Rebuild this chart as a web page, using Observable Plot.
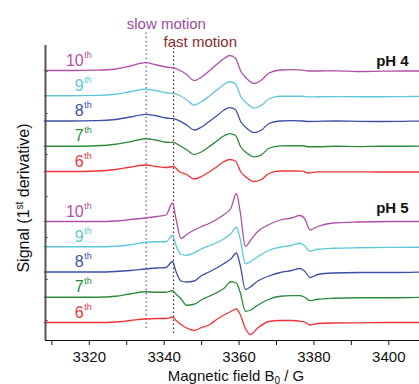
<!DOCTYPE html>
<html><head><meta charset="utf-8">
<script src="https://cdn.jsdelivr.net/npm/d3@7"></script>
<script src="https://cdn.jsdelivr.net/npm/@observablehq/plot@0.6"></script>
<style>body{margin:0;background:#fff;} svg{display:block}</style>
</head><body><div id="chart"></div>
<script>
// ---- data ----
const field4 = [3308, 3315, 3322, 3327, 3331, 3335, 3338, 3340.5, 3342.5, 3344, 3346, 3348, 3350, 3352, 3354, 3356, 3357.5, 3359, 3360.5, 3362, 3364, 3366, 3368, 3371, 3374, 3377, 3378.5, 3381, 3386, 3392, 3398, 3404, 3409];
const pH4_10 = [0, 0, 0.3, 1.5, 4.5, 7.8, 5.5, 3.5, 2.5, 0.5, -4, -10, -6.5, -0.5, 6, 12, 15, 12.5, -1, -8, -13, -9.5, -2.5, 0.5, 0.8, 0.3, -0.5, -0.5, -0.3, -1, -0.7, -0.5, -0.5];
const pH4_9  = [0, 0, 0.3, 1.5, 4, 6.5, 5, 3, 2.3, 0.5, -4, -9.3, -6, -0.5, 5.5, 11.5, 14, 12, -1, -7.5, -12.3, -9.5, -3, -0.5, -0.5, -0.5, -1.2, -1, -0.8, -1, -1, -0.8, -0.7];
const pH4_8  = [0, 0, 0.3, 1.5, 4, 6.7, 5, 3, 2.3, 0.3, -4, -9, -6, -0.5, 5, 11, 13.3, 11.5, -1, -7, -11.7, -9, -2.5, 0, 0.3, 0, -0.5, -0.3, 0, -0.3, -0.5, -0.3, 0];
const pH4_7  = [0, 0, 0.5, 2, 4.5, 7.5, 6, 4, 3.8, 1, -3.5, -8.3, -5.5, -0.5, 5, 10.5, 12.7, 11, -1, -6.5, -10.7, -8.5, -2, 0.3, 0.5, 0.5, -0.5, -0.5, 0, -0.3, 0, 0, 0.3];
const pH4_6  = [0, 0, 0.5, 2, 4.5, 6.5, 5, 4, 5, 0, -3, -7.5, -5, -0.5, 4.5, 10, 12, 10.5, -0.5, -6, -10, -8, -2, 0.5, 0.5, 0.3, -1.5, -0.3, -0.3, -0.3, -0.5, -0.5, -0.5];

const field5 = [3308, 3315, 3322, 3327, 3331, 3335, 3338, 3340.5, 3342.2, 3343.2, 3344.5, 3346, 3348, 3350, 3352, 3354, 3356, 3357.8, 3359.3, 3360.3, 3361.7, 3363, 3365, 3368, 3371, 3374, 3376.3, 3377.5, 3379, 3381, 3385, 3392, 3400, 3409];
const pH5_10 = [0, 0, 0, 0.5, 2, 3.5, 5, 6.5, 18.5, 2, -17, -13, -8.5, -5, -2, 2, 7, 13, 28, 10, -25, -19, -10, -3, 1.5, 3.5, 6, 3, -8.5, -5, -1.5, -0.5, 0, 0];
const pH5_9  = [0, 0, 0, 0.5, 2, 4.5, 5, 5, 11.5, 1, -7.5, -8.5, -6, -2, 1, 4, 8, 13, 19.5, 8, -17, -15, -10, -3.5, -0.5, 1.5, 3.5, 1, -4.5, -2.5, -1.5, -1, -0.7, -0.5];
const pH5_8  = [0, 0, 0, 0.5, 1.5, 3, 4, 4.5, 10.5, 0, -9, -10, -9, -3.5, 0, 4, 8.5, 13, 19, 7, -17.5, -15, -9, -4, -0.5, 1.5, 3.5, 1, -5.5, -2.5, -1, -0.5, -0.5, 0];
const pH5_7  = [0, 0, 0, 1, 3.5, 5.5, 5, 5, 6.5, 3, -1.5, -8, -7, -2.5, 1, 4.5, 9, 15.5, 14, 5, -14, -13, -8, -2, 1, 1.7, 1.7, 0, -3.3, -2, -1, -0.5, -0.5, 0];
const pH5_6  = [0, 0, 0, 0.5, 2, 3.5, 4, 4, 5.3, 2, -2, -5.5, -8, -5, -2.5, 3, 7.5, 11, 13.5, 8, -6, -12, -5.5, 1, 2, 2, 1.3, 0.5, -2.5, -1, -0.5, -0.3, 0, 0];

const groups = ["pH 4", "pH 5"];
const scans = ["10", "9", "8", "7", "6"];
const scanColors = ["#b04fa8", "#5ec8d8", "#3b4fa6", "#2d8a3c", "#ee3338"];
const xTicks = [3310, 3320, 3330, 3340, 3350, 3360, 3370, 3380, 3390, 3400];
const markerFields = [3335.2, 3342.5];
const markerLabels = ["slow motion", "fast motion"];

// ---- build table ----
const groupFields = [field4, field5];
const groupSeries = [[pH4_10, pH4_9, pH4_8, pH4_7, pH4_6], [pH5_10, pH5_9, pH5_8, pH5_7, pH5_6]];
const groupBase = [169, 18];   // baseline of the lowest trace in each stack
const spacing = 25.25;
const rows = [], labels = [];
groups.forEach((g, gi) => {
  scans.forEach((s, si) => {
    const off = groupBase[gi] + (scans.length - 1 - si) * spacing;
    groupSeries[gi][si].forEach((v, j) => rows.push({group: g, scan: s, field: groupFields[gi][j], value: off + v, color: scanColors[si]}));
    labels.push({scan: s, y: off + 5, color: scanColors[si]});
  });
});

const xDomain = [3308.3, 3408.2];
const yTicks = [20, 61, 103, 144, 186, 227, 269];
const font = "'Liberation Sans', Arial, sans-serif";

const plot = Plot.plot({
  width: 419, height: 384,
  marginLeft: 45, marginRight: 0, marginTop: 45, marginBottom: 44,
  style: {fontFamily: font, background: "white", color: "#111"},
  x: {domain: xDomain},
  y: {domain: [0, 295], axis: null},
  marks: [
    Plot.axisX({ticks: xTicks, tickSize: 5, tickPadding: 6, fontSize: 15, label: null,
      tickFormat: d => d % 20 === 0 ? String(d) : "", stroke: "#111", fill: "#111"}),
    Plot.ruleY(yTicks, {x1: xDomain[0], x2: xDomain[0] + 0.7, stroke: "#333", strokeWidth: 1}),
    Plot.ruleX([markerFields[0]], {y1: 12, y2: 310, stroke: "#b36fc2", strokeWidth: 1.6, strokeDasharray: "1.6,2.6"}),
    Plot.ruleX([markerFields[1]], {y1: 7, y2: 292, stroke: "#7a1818", strokeWidth: 1.3, strokeDasharray: "1.4,2.6"}),
    Plot.line(rows, {x: "field", y: "value", z: d => d.group + d.scan, stroke: "color", curve: "monotone-x", strokeWidth: 1.3}),
    Plot.text(labels, {x: () => 3318.5, y: "y", text: "scan", fill: "color", textAnchor: "end", lineAnchor: "bottom", fontSize: 16}),
    Plot.text(labels, {x: () => 3318.5, y: "y", text: () => "th", fill: "color", textAnchor: "start", lineAnchor: "bottom", dx: 0.5, dy: -8, fontSize: 9}),
    Plot.text([groups[0]], {x: () => 3405.3, y: () => 275, text: d => d, textAnchor: "end", lineAnchor: "bottom", fontSize: 15, fontWeight: "bold", fill: "#111"}),
    Plot.text([groups[1]], {x: () => 3405.3, y: () => 128, text: d => d, textAnchor: "end", lineAnchor: "bottom", fontSize: 15, fontWeight: "bold", fill: "#111"}),
    Plot.text([markerLabels[0]], {x: () => 3330, y: () => 312, text: d => d, textAnchor: "start", lineAnchor: "bottom", fontSize: 15, fill: "#9a4c9e"}),
    Plot.text([markerLabels[1]], {x: () => 3339.85, y: () => 293.5, text: d => d, textAnchor: "start", lineAnchor: "bottom", fontSize: 15, fill: "#8a2a2a"}),
    Plot.ruleX([xDomain[0]], {stroke: "#555", strokeWidth: 2}),
    Plot.ruleY([0], {stroke: "#111", strokeWidth: 1.2})
  ]
});

const svg = d3.select(plot);
const xt = svg.append("text").attr("x", 236).attr("y", 380.5).attr("text-anchor", "middle")
  .attr("font-family", font).attr("font-size", 15).attr("fill", "#111");
xt.append("tspan").text("Magnetic field B");
xt.append("tspan").attr("font-size", 10).attr("dy", 3).text("0");
xt.append("tspan").attr("dy", -3).text(" / G");

const yt = svg.append("text").attr("transform", "translate(29,198) rotate(-90)").attr("text-anchor", "middle")
  .attr("font-family", font).attr("font-size", 16).attr("fill", "#111");
yt.append("tspan").text("Signal (1");
yt.append("tspan").attr("font-size", 10).attr("dy", -6).text("st");
yt.append("tspan").attr("dy", 6).text(" derivative)");

document.getElementById("chart").appendChild(plot);
</script>
</body></html>
